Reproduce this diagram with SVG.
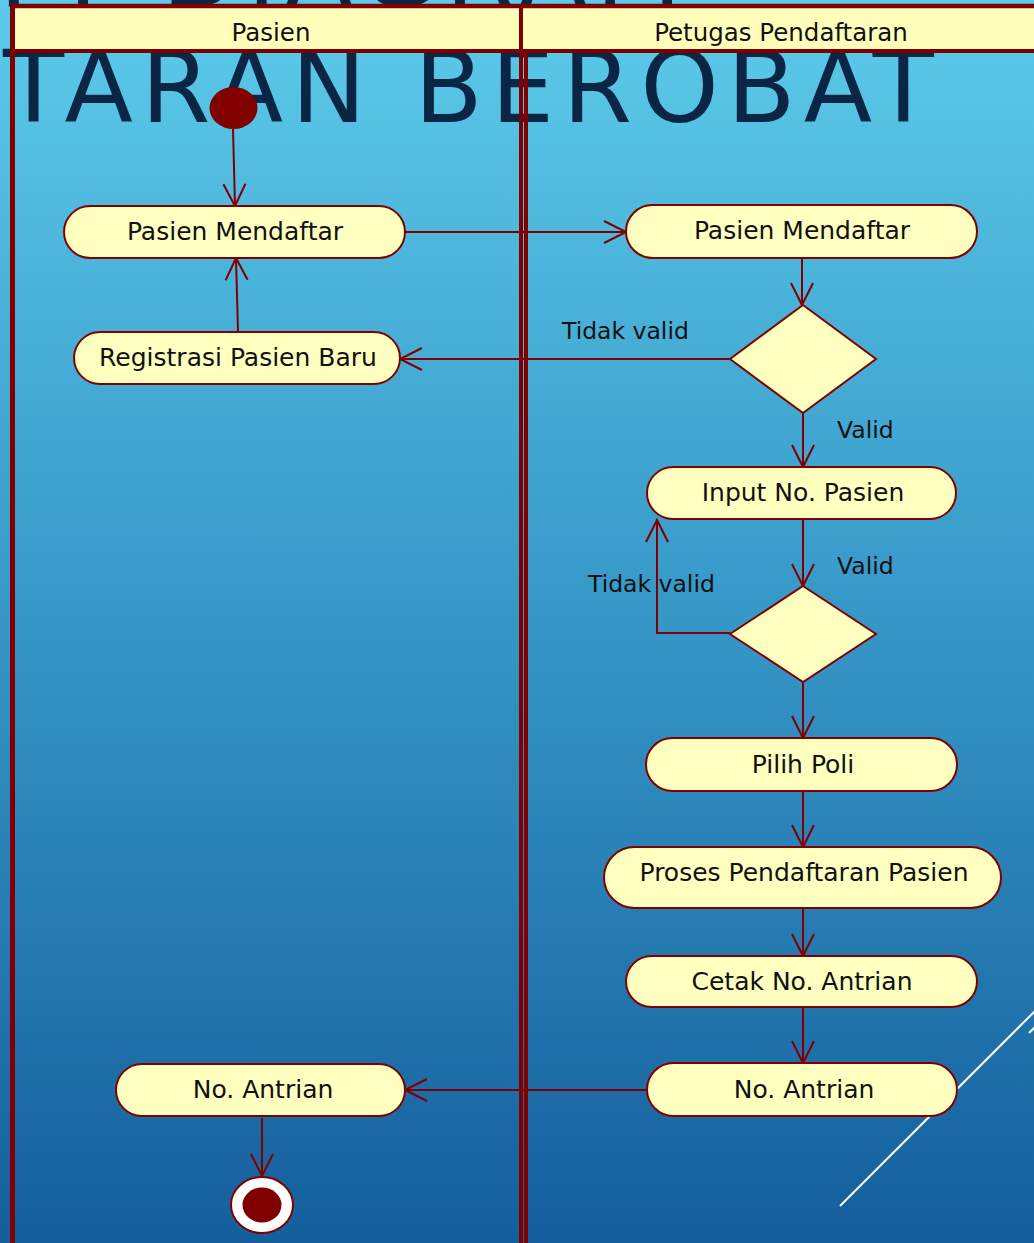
<svg xmlns="http://www.w3.org/2000/svg" width="1034" height="1243" viewBox="0 0 1034 1243">
  <defs>
    <linearGradient id="bg" x1="0" y1="0" x2="0" y2="1">
      <stop offset="0" stop-color="#5ccbea"/>
      <stop offset="0.5" stop-color="#3697c7"/>
      <stop offset="1" stop-color="#145e9c"/>
    </linearGradient>
    <marker id="arr" markerUnits="userSpaceOnUse" markerWidth="24" markerHeight="24" viewBox="0 0 24 24" refX="23" refY="12" orient="auto" overflow="visible">
      <path d="M1,1 L23,12 L1,23" fill="none" stroke="#800000" stroke-width="2"/>
    </marker>
    <style>
      .title { font-family: "DejaVu Sans", Verdana, sans-serif; font-size: 100px; fill: #0b2545; letter-spacing: 8.2px; }
      .lane { fill: none; stroke: #800000; }
      .hdr { fill: #ffffbb; }
      .htxt { font-family: "DejaVu Sans", Verdana, sans-serif; font-size: 24.5px; fill: #111; text-anchor: middle; }
      .act { fill: #ffffc0; stroke: #800000; stroke-width: 2; }
      .txt { font-family: "DejaVu Sans", Verdana, sans-serif; font-size: 25px; fill: #111; text-anchor: middle; }
      .lbl { font-family: "DejaVu Sans", Verdana, sans-serif; font-size: 23.5px; fill: #111; }
      .con { fill: none; stroke: #800000; stroke-width: 2; marker-end: url(#arr); }
      .deco { stroke: #ffffff; stroke-width: 2; fill: none; }
    </style>
  </defs>

  <g id="background">
    <rect x="0" y="0" width="1034" height="1243" fill="url(#bg)"/>
    <line class="deco" x1="840" y1="1206" x2="1040" y2="1006"/>
    <line class="deco" x1="1029" y1="1033" x2="1040" y2="1022"/>
  </g>

  <g id="title">
    <text class="title" x="690" y="7" text-anchor="end">ACTIVITY DIAGRAM</text>
    <text class="title" x="942" y="122" text-anchor="end">PENDAFTARAN BEROBAT</text>
  </g>

  <g id="swimlanes">
    <rect class="hdr" x="14" y="8" width="1030" height="42"/>
    <line class="lane" x1="12.5" y1="4" x2="12.5" y2="1243" stroke-width="5"/>
    <line class="lane" x1="10" y1="6" x2="1040" y2="6" stroke-width="4.5"/>
    <line class="lane" x1="10" y1="51" x2="1040" y2="51" stroke-width="4"/>
    <line class="lane" x1="521" y1="6" x2="521" y2="1243" stroke-width="4"/>
    <line class="lane" x1="526" y1="51" x2="526" y2="1243" stroke-width="4"/>
    <text class="htxt" x="271" y="41">Pasien</text>
    <text class="htxt" x="781" y="41">Petugas Pendaftaran</text>
  </g>

  <g id="connectors">
    <path class="con" d="M233,129 L235,206"/>
    <path class="con" d="M405,232 L626,232"/>
    <path class="con" d="M802,258 L802,305"/>
    <path class="con" d="M730,359 L400,359"/>
    <path class="con" d="M238,332 L236,258"/>
    <path class="con" d="M803,413 L803,467"/>
    <path class="con" d="M803,519 L803,586"/>
    <path class="con" d="M730,633 L657,633 L657,520"/>
    <path class="con" d="M803,682 L803,738"/>
    <path class="con" d="M803,791 L803,847"/>
    <path class="con" d="M803,908 L803,956"/>
    <path class="con" d="M803,1007 L803,1063"/>
    <path class="con" d="M647,1090 L405,1090"/>
    <path class="con" d="M262,1118 L262,1176"/>
    <text class="lbl" x="562" y="339">Tidak valid</text>
    <text class="lbl" x="837" y="438">Valid</text>
    <text class="lbl" x="837" y="574">Valid</text>
    <text class="lbl" x="588" y="592">Tidak valid</text>
  </g>

  <g id="start">
    <ellipse cx="233.5" cy="108" rx="24" ry="21" fill="#800000"/>
  </g>
  <g id="pasien-mendaftar-1">
    <rect class="act" x="64" y="206" width="341" height="52" rx="26"/>
    <text class="txt" x="235" y="240">Pasien Mendaftar</text>
  </g>
  <g id="pasien-mendaftar-2">
    <rect class="act" x="626" y="205" width="351" height="53" rx="26.5"/>
    <text class="txt" x="802" y="239">Pasien Mendaftar</text>
  </g>
  <g id="registrasi">
    <rect class="act" x="74" y="332" width="326" height="52" rx="26"/>
    <text class="txt" x="238" y="366">Registrasi Pasien Baru</text>
  </g>
  <g id="decision-1">
    <polygon class="act" points="803,305 876,359 803,413 730,359"/>
  </g>
  <g id="input-no-pasien">
    <rect class="act" x="647" y="467" width="309" height="52" rx="26"/>
    <text class="txt" x="803" y="501">Input No. Pasien</text>
  </g>
  <g id="decision-2">
    <polygon class="act" points="803,586 876,634 803,682 730,634"/>
  </g>
  <g id="pilih-poli">
    <rect class="act" x="646" y="738" width="311" height="53" rx="26.5"/>
    <text class="txt" x="803" y="773">Pilih Poli</text>
  </g>
  <g id="proses">
    <rect class="act" x="604" y="847" width="397" height="61" rx="30.5"/>
    <text class="txt" x="804" y="881">Proses Pendaftaran Pasien</text>
  </g>
  <g id="cetak">
    <rect class="act" x="626" y="956" width="351" height="51" rx="25.5"/>
    <text class="txt" x="802" y="990">Cetak No. Antrian</text>
  </g>
  <g id="no-antrian-2">
    <rect class="act" x="647" y="1063" width="310" height="53" rx="26.5"/>
    <text class="txt" x="804" y="1098">No. Antrian</text>
  </g>
  <g id="no-antrian-1">
    <rect class="act" x="116" y="1064" width="289" height="52" rx="26"/>
    <text class="txt" x="263" y="1098">No. Antrian</text>
  </g>
  <g id="end">
    <ellipse cx="262" cy="1205" rx="31" ry="28" fill="#ffffff" stroke="#800000" stroke-width="2"/>
    <ellipse cx="262" cy="1205" rx="19.5" ry="17.5" fill="#800000"/>
  </g>
</svg>
